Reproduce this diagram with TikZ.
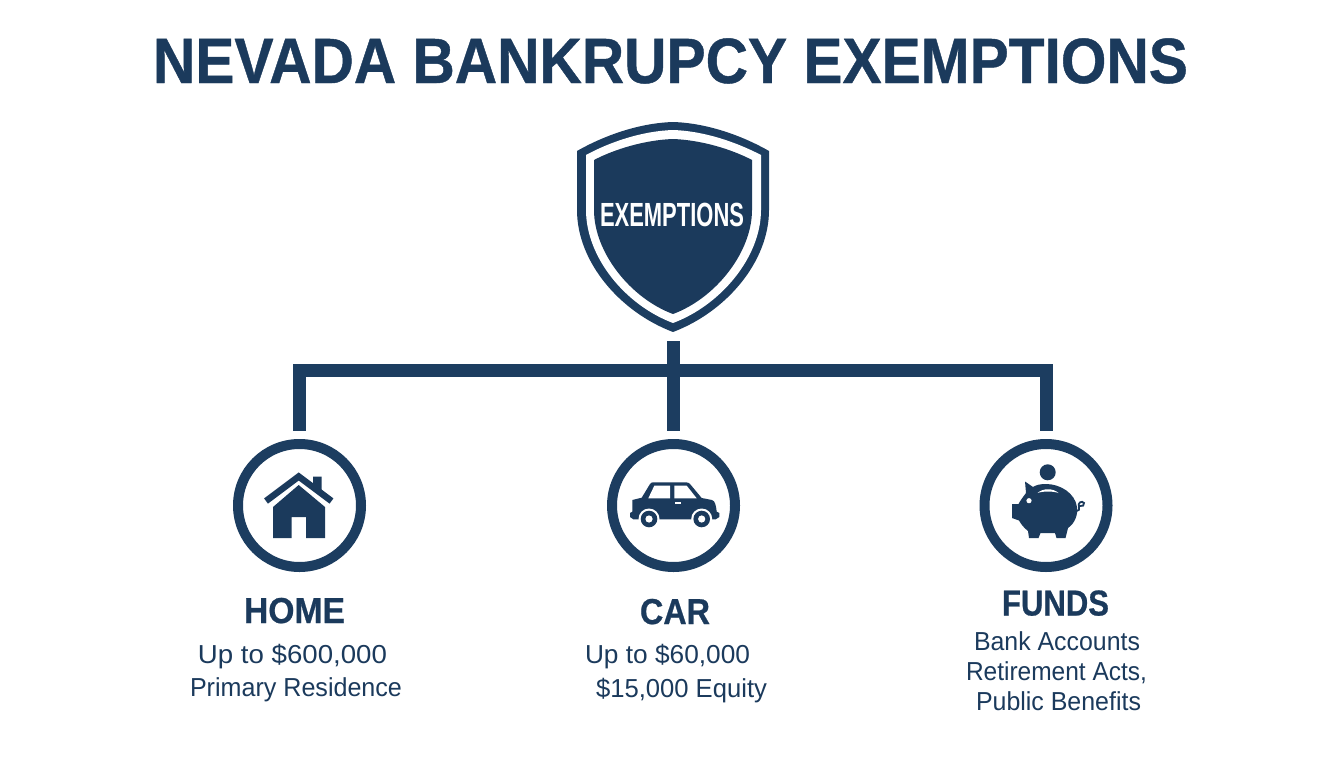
\documentclass[tikz,border=0pt]{standalone}
\usepackage{fontspec}
\setmainfont{Liberation Sans}
\newfontfamily\heavy[BoldFeatures={FakeBold=0.7}]{Liberation Sans}
\definecolor{navy}{HTML}{1B3A5C}
\definecolor{navyline}{HTML}{1C3D60}
\newcommand{\fitw}[2]{\resizebox{#1pt}{\height}{#2}}
\tikzset{
  px/.style={x=1pt,y=-1pt},
  conn/.style={draw=navyline,line width=13pt,line cap=butt,line join=miter},
  ring/.style={circle,draw=navyline,line width=10pt,fill=white,minimum size=123pt,inner sep=0pt},
  icon/.style={fill=navy,draw=none},
  hole/.style={fill=white,draw=none},
  head/.style={font=\heavy\bfseries\fontsize{36}{36}\selectfont,text=navy,anchor=base,inner sep=0pt},
  sub/.style={font=\fontsize{26}{26}\selectfont,text=navy,anchor=base,inner sep=0pt},
}
\begin{document}
\begin{tikzpicture}[px]
\useasboundingbox (0,0) rectangle (1344,768);
\fill[white] (0,0) rectangle (1344,768);
\node[anchor=base,inner sep=0pt,text=navy,font=\heavy\bfseries\fontsize{64}{64}\selectfont] (title) at (670.5,83) {\fitw{1035}{NEVADA BANKRUPCY EXEMPTIONS}};
% shield
\fill[navyline] (673,122) .. controls (640,123) and (605,135) .. (577,151) -- (577,210)
  .. controls (577,262) and (620,312) .. (673,332)
  .. controls (726,312) and (769,262) .. (769,210) -- (769,151)
  .. controls (741,135) and (706,123) .. (673,122) -- cycle;
\fill[white] (673,130) .. controls (642,131) and (610,142) .. (586,155) -- (586,210)
  .. controls (586,257) and (625,305) .. (673,323)
  .. controls (721,305) and (761,257) .. (761,210) -- (761,155)
  .. controls (736,142) and (704,131) .. (673,130) -- cycle;
\fill[navy] (673,139) .. controls (645,140) and (615,149) .. (594,160) -- (594,210)
  .. controls (594,252) and (630,298) .. (673,314)
  .. controls (716,298) and (752,252) .. (752,210) -- (752,160)
  .. controls (731,149) and (701,140) .. (673,139) -- cycle;
\node[inner sep=0pt,text=white,anchor=base,font=\bfseries\fontsize{33.5}{33.5}\selectfont] (shield) at (672,226.5) {\fitw{144}{EXEMPTIONS}};
% connectors
\coordinate (stub) at (673,341);
\coordinate (dropL) at (299.3,430.5);
\coordinate (dropC) at (673,430.5);
\coordinate (dropR) at (1046,430.5);
\coordinate (cornerL) at (299.3,370.6);
\coordinate (cornerR) at (1046,370.6);
\draw[conn] (dropL) -- (cornerL) -- (cornerR) -- (dropR);
\draw[conn] (stub) -- (dropC);
% rings
\node[ring] (home) at (299.5,505.5) {};
\node[ring] (car) at (673.5,505.5) {};
\node[ring] (funds) at (1046,505.5) {};
% house
\fill[icon] (313,476.7) -- (321.7,476.7) -- (321.7,494) -- (313,487) -- cycle;
\draw[navy,line width=6.5pt,line cap=butt,line join=miter] (266,501) -- (298.7,476.5) -- (331.5,501);
\fill[icon] (298.7,485) -- (273,507) -- (273,538) -- (291.7,538) -- (291.7,517) -- (306,517) -- (306,538) -- (325,538) -- (325,507) -- cycle;
% car
\fill[icon] (632.3,500) -- (641.7,497.7) -- (650,484) .. controls (651,482.5) and (652,482.3) .. (654,482.3) -- (686,482.3) .. controls (688,482.3) and (689,483) .. (690,484) -- (701.7,498) -- (712,500) .. controls (715,501) and (716,505) .. (716.7,511.7) -- (719.3,513) -- (719.3,517) -- (715.7,519.3) -- (633.3,519.3) -- (630,517) -- (630,513) -- (632.3,511.7) -- cycle;
\fill[hole] (648.3,498.3) -- (654.3,485.7) -- (670,485.7) -- (670,498.3) -- cycle;
\fill[hole] (674.3,485.7) -- (686.7,485.7) -- (696.7,498.3) -- (674.3,498.3) -- cycle;
\fill[hole] (675,501.8) rectangle (681,503.6);
\fill[hole] (649,519) circle[radius=10.5pt];
\fill[hole] (701.7,519) circle[radius=10.5pt];
\fill[icon] (649,519) circle[radius=8.3pt];
\fill[icon] (701.7,519) circle[radius=8.3pt];
\fill[hole] (649,519) circle[radius=3.6pt];
\fill[hole] (701.7,519) circle[radius=3.6pt];
% piggy
\fill[icon] (1047.7,472.3) circle[radius=8pt];
\fill[icon] (1012,504) -- (1012,518) -- (1019,520.5) .. controls (1021,524) and (1024,528) .. (1028,531) -- (1029,538) -- (1038.5,538) -- (1040.5,533) -- (1055,533) -- (1056.5,538) -- (1065.5,538) -- (1068,528) .. controls (1075,523) and (1078,515) .. (1077,507) .. controls (1075,493) and (1060,484) .. (1046,484) .. controls (1040,484) and (1036,485) .. (1033,487) -- (1025,481.5) -- (1026,493) .. controls (1023,497) and (1020,501) .. (1018.5,504) -- cycle;
\fill[hole] (1037.5,493) .. controls (1043,488) and (1053,488) .. (1058.5,493) .. controls (1053,491) and (1043,491) .. (1037.5,493) -- cycle;
\fill[hole] (1029,500.7) circle[radius=2.6pt];
\draw[navy,line width=1.8pt] (1075,511) .. controls (1079,511) and (1080,509) .. (1079,507) .. controls (1077,503) and (1082,500) .. (1084,503) .. controls (1085,505) and (1082,507) .. (1080,506);
% labels
\node[head] (homeh) at (294.5,623) {\fitw{101}{HOME}};
\node[sub] (home1) at (292.5,663) {\fitw{189}{Up to \$600,000}};
\node[sub] (home2) at (296,696) {\fitw{212}{Primary Residence}};
\node[head] (carh) at (675,624) {\fitw{70}{CAR}};
\node[sub] (car1) at (667.5,663) {\fitw{165}{Up to \$60,000}};
\node[sub] (car2) at (681.5,697) {\fitw{171}{\$15,000 Equity}};
\node[head] (fundsh) at (1055.5,615.5) {\fitw{107}{FUNDS}};
\node[sub] (funds1) at (1057,650) {\fitw{166}{Bank Accounts}};
\node[sub] (funds2) at (1056.5,680) {\fitw{181}{Retirement Acts,}};
\node[sub] (funds3) at (1058.5,710) {\fitw{165}{Public Benefits}};
\end{tikzpicture}
\end{document}
